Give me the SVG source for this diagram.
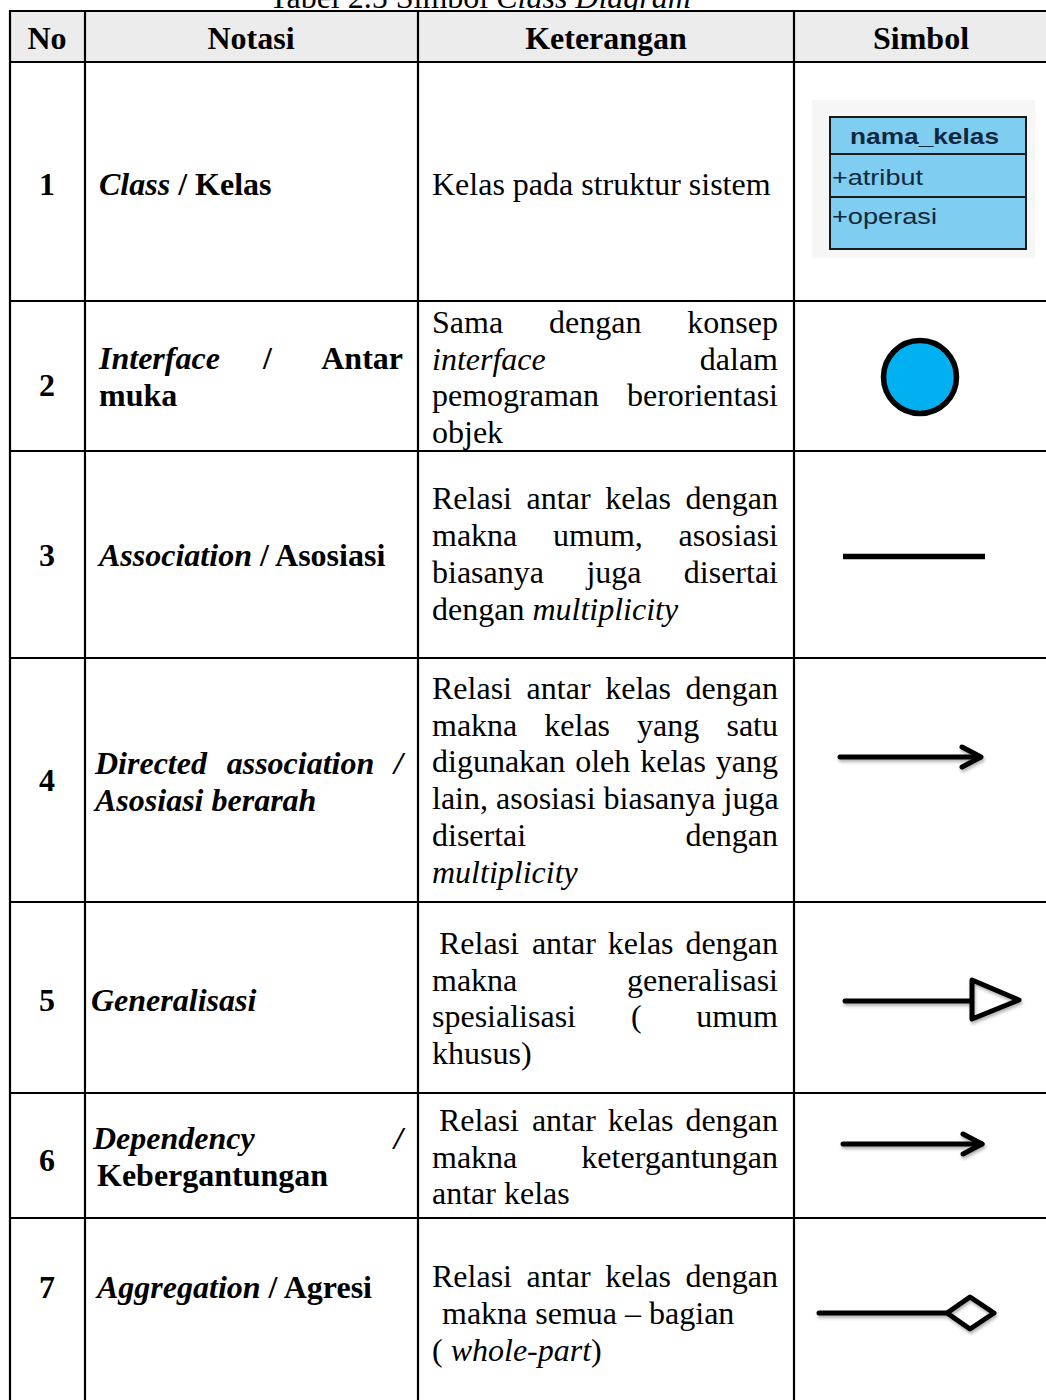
<svg xmlns="http://www.w3.org/2000/svg" width="1046" height="1400" viewBox="0 0 1046 1400">
<style>
text{font-family:"Liberation Serif","Times New Roman",serif;font-size:32px;fill:#000}
.b{font-weight:bold}
.i{font-style:italic}
.bi{font-weight:bold;font-style:italic}
.c{text-anchor:middle}
.e{text-anchor:end}
.grid{stroke:#000;stroke-width:2.2;fill:none}
.sym{stroke:#000;stroke-width:5;fill:none;stroke-linecap:round;stroke-linejoin:round}
.cls{font-family:"Liberation Sans",Arial,sans-serif;font-size:22px;fill:#12283e}
</style>
<defs>
<filter id="sh" x="-10%" y="-50%" width="130%" height="250%">
<feDropShadow dx="1" dy="2.5" stdDeviation="1.5" flood-color="#000" flood-opacity="0.3"/>
</filter>
</defs>
<rect width="1046" height="1400" fill="#fff"/>
<g id="title">
<text x="480" y="8" class="c">Tabel 2.5 Simbol <tspan class="i">Class Diagram</tspan></text>
</g>
<g id="table-grid">
<rect x="10" y="11" width="1040" height="51" fill="#ececec"/>
<line class="grid" x1="10" y1="11" x2="1046" y2="11"/>
<line class="grid" x1="10" y1="62" x2="1046" y2="62"/>
<line class="grid" x1="10" y1="301" x2="1046" y2="301"/>
<line class="grid" x1="10" y1="451" x2="1046" y2="451"/>
<line class="grid" x1="10" y1="658" x2="1046" y2="658"/>
<line class="grid" x1="10" y1="902" x2="1046" y2="902"/>
<line class="grid" x1="10" y1="1093" x2="1046" y2="1093"/>
<line class="grid" x1="10" y1="1218" x2="1046" y2="1218"/>
<line class="grid" x1="10" y1="10" x2="10" y2="1400"/>
<line class="grid" x1="85" y1="10" x2="85" y2="1400"/>
<line class="grid" x1="418" y1="10" x2="418" y2="1400"/>
<line class="grid" x1="794" y1="10" x2="794" y2="1400"/>
</g>
<g id="header">
<text x="47" y="49" class="b c">No</text>
<text x="251" y="49" class="b c">Notasi</text>
<text x="606" y="49" class="b c">Keterangan</text>
<text x="921" y="49" class="b c">Simbol</text>
</g>
<g id="row1">
<text x="47" y="195" class="b c">1</text>
<text x="99" y="195" class="b"><tspan class="bi">Class</tspan> / Kelas</text>
<text x="432" y="195">Kelas pada struktur sistem</text>
<g id="class-symbol">
<rect x="812" y="100" width="223" height="158" fill="#f6f6f6"/>
<rect x="830" y="117" width="196" height="132" fill="#7fcdf0" stroke="#1a1a1a" stroke-width="2"/>
<line x1="830" y1="154" x2="1026" y2="154" stroke="#1a1a1a" stroke-width="2"/>
<line x1="830" y1="197" x2="1026" y2="197" stroke="#1a1a1a" stroke-width="2"/>
<text x="850" y="144" class="cls" font-weight="bold" textLength="149" lengthAdjust="spacingAndGlyphs">nama_kelas</text>
<text x="832" y="185" class="cls" textLength="91" lengthAdjust="spacingAndGlyphs">+atribut</text>
<text x="832" y="224" class="cls" textLength="105" lengthAdjust="spacingAndGlyphs">+operasi</text>
</g>
</g>
<g id="row2">
<text x="47" y="396" class="b c">2</text>
<text x="99" y="369" class="bi">Interface</text>
<text x="263" y="369" class="b">/</text>
<text x="403" y="369" class="b e">Antar</text>
<text x="99" y="406" class="b">muka</text>
<text x="432" y="333">Sama</text>
<text x="549" y="333">dengan</text>
<text x="778" y="333" class="e">konsep</text>
<text x="432" y="370" class="i">interface</text>
<text x="778" y="370" class="e">dalam</text>
<text x="432" y="406">pemograman</text>
<text x="778" y="406" class="e">berorientasi</text>
<text x="432" y="443">objek</text>
<circle cx="920" cy="377" r="36.5" fill="#00b0f0" stroke="#000" stroke-width="5.5"/>
</g>
<g id="row3">
<text x="47" y="566" class="b c">3</text>
<text x="99" y="566" class="b"><tspan class="bi">Association</tspan> / Asosiasi</text>
<text x="432" y="509">Relasi</text>
<text x="526.6" y="509">antar</text>
<text x="605.2" y="509">kelas</text>
<text x="778" y="509" class="e">dengan</text>
<text x="432" y="546">makna</text>
<text x="553" y="546">umum,</text>
<text x="778" y="546" class="e">asosiasi</text>
<text x="432" y="583">biasanya</text>
<text x="586.4" y="583">juga</text>
<text x="778" y="583" class="e">disertai</text>
<text x="432" y="620">dengan <tspan class="i">multiplicity</tspan></text>
<line x1="843" y1="556.5" x2="985" y2="556.5" stroke="#000" stroke-width="5.5"/>
</g>
<g id="row4">
<text x="47" y="791" class="b c">4</text>
<text x="95" y="774" class="bi">Directed</text>
<text x="226.7" y="774" class="bi">association</text>
<text x="403" y="774" class="bi e">/</text>
<text x="95" y="811" class="bi">Asosiasi berarah</text>
<text x="432" y="699">Relasi</text>
<text x="526.6" y="699">antar</text>
<text x="605.2" y="699">kelas</text>
<text x="778" y="699" class="e">dengan</text>
<text x="432" y="736">makna</text>
<text x="544.3" y="736">kelas</text>
<text x="637.1" y="736">yang</text>
<text x="778" y="736" class="e">satu</text>
<text x="432" y="772">digunakan</text>
<text x="575.2" y="772">oleh</text>
<text x="640.2" y="772">kelas</text>
<text x="778" y="772" class="e">yang</text>
<text x="432" y="809">lain, asosiasi biasanya juga</text>
<text x="432" y="846">disertai</text>
<text x="778" y="846" class="e">dengan</text>
<text x="432" y="883" class="i">multiplicity</text>
<g filter="url(#sh)">
<line class="sym" x1="840" y1="757" x2="980" y2="757"/>
<polyline class="sym" points="962,747 981,757 962,767"/>
</g>
</g>
<g id="row5">
<text x="47" y="1011" class="b c">5</text>
<text x="91" y="1011" class="bi">Generalisasi</text>
<text x="439" y="954">Relasi</text>
<text x="531.9" y="954">antar</text>
<text x="607.8" y="954">kelas</text>
<text x="778" y="954" class="e">dengan</text>
<text x="432" y="991">makna</text>
<text x="778" y="991" class="e">generalisasi</text>
<text x="432" y="1027">spesialisasi</text>
<text x="631" y="1027">(</text>
<text x="778" y="1027" class="e">umum</text>
<text x="432" y="1064">khusus)</text>
<g filter="url(#sh)">
<line class="sym" x1="845" y1="1001" x2="971" y2="1001"/>
<polygon class="sym" points="972,980 1019,1000 972,1019"/>
</g>
</g>
<g id="row6">
<text x="47" y="1171" class="b c">6</text>
<text x="93" y="1149" class="bi">Dependency</text>
<text x="403" y="1149" class="bi e">/</text>
<text x="97" y="1186" class="b">Kebergantungan</text>
<text x="439" y="1131">Relasi</text>
<text x="531.9" y="1131">antar</text>
<text x="607.8" y="1131">kelas</text>
<text x="778" y="1131" class="e">dengan</text>
<text x="432" y="1168">makna</text>
<text x="778" y="1168" class="e">ketergantungan</text>
<text x="432" y="1204">antar kelas</text>
<g filter="url(#sh)">
<line class="sym" x1="843" y1="1144" x2="982" y2="1144"/>
<polyline class="sym" points="963,1134 982,1144 963,1154"/>
</g>
</g>
<g id="row7">
<text x="47" y="1298" class="b c">7</text>
<text x="97" y="1298" class="b"><tspan class="bi">Aggregation</tspan> / Agresi</text>
<text x="432" y="1287">Relasi</text>
<text x="526.6" y="1287">antar</text>
<text x="605.2" y="1287">kelas</text>
<text x="778" y="1287" class="e">dengan</text>
<text x="442" y="1324">makna semua – bagian</text>
<text x="432" y="1361">( <tspan class="i">whole-part</tspan>)</text>
<g filter="url(#sh)">
<line class="sym" x1="819" y1="1313" x2="947" y2="1313"/>
<polygon class="sym" points="947,1313 970,1297 994,1313 970,1329"/>
</g>
</g>
</svg>
